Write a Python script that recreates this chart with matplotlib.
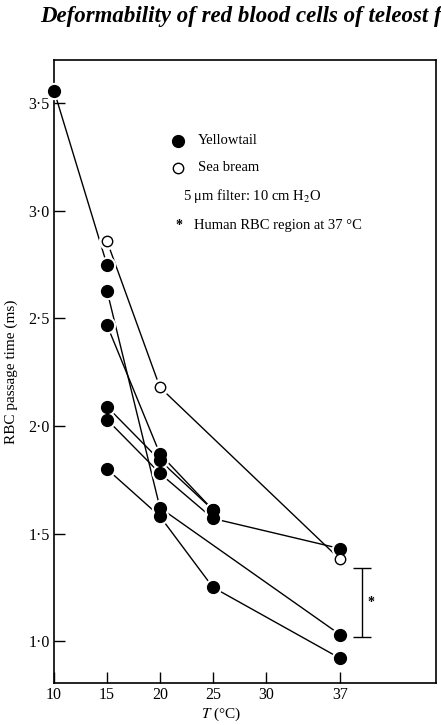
import numpy as np
import matplotlib
matplotlib.use("Agg")
import matplotlib.pyplot as plt

# temperatures (deg C) and RBC passage time (ms) per fish
yt_series = [
    ([10, 15], [3.56, 2.75]),
    ([15, 20, 37], [2.63, 1.62, 1.03]),
    ([15, 20, 25], [2.47, 1.87, 1.61]),
    ([15, 20, 25], [2.09, 1.84, 1.61]),
    ([15, 20, 25, 37], [2.03, 1.78, 1.57, 1.43]),
    ([15, 20, 25, 37], [1.80, 1.58, 1.25, 0.92]),
]
sb_temp = [15, 20, 37]
sb_time = [2.86, 2.18, 1.38]

# human RBC region at 37 C
human_x = 39.1
human_lo = 1.02
human_hi = 1.34

x_ticks = [10, 15, 20, 25, 30, 37]
y_ticks = [1.0, 1.5, 2.0, 2.5, 3.0, 3.5]
y_ticklabels = ['1·0', '1·5', '2·0', '2·5', '3·0', '3·5']

plt.rcParams['font.family'] = ['Liberation Serif', 'DejaVu Serif']
plt.rcParams['mathtext.fontset'] = 'stix'

fig = plt.figure(figsize=(4.41, 7.25), dpi=100)
ax = fig.add_axes([54 / 441, 1 - 683 / 725, 382 / 441, 623 / 725])

# lines
for xs, ys in yt_series:
    ax.plot(xs, ys, color='black', lw=1.0, zorder=2)
ax.plot(sb_temp, sb_time, color='black', lw=1.0, zorder=2)

# white halo so the lines stop short of the points
all_x = [x for xs, _ in yt_series for x in xs] + sb_temp
all_y = [y for _, ys in yt_series for y in ys] + sb_time
ax.plot(all_x, all_y, 'o', ls='none', ms=11.5, color='white', zorder=3, clip_on=False)

for xs, ys in yt_series:
    ax.plot(xs, ys, 'o', ls='none', ms=8.5, color='black', zorder=4, clip_on=False)
ax.plot(sb_temp, sb_time, 'o', ls='none', ms=7.5, mfc='white', mec='black',
        mew=1.0, zorder=4)

# human region bar
ax.errorbar([human_x], [(human_lo + human_hi) / 2],
            yerr=[[(human_hi - human_lo) / 2], [(human_hi - human_lo) / 2]],
            fmt='none', ecolor='black', elinewidth=1.0, capsize=6.5, capthick=1.0)
ax.text(human_x + 0.5, (human_lo + human_hi) / 2, '*', fontsize=10,
        fontweight='bold', va='center', ha='left')

ax.set_xlim(10, 46.06)
ax.set_ylim(0.805, 3.702)
ax.set_xticks(x_ticks)
ax.set_xticklabels([str(t) for t in x_ticks])
ax.set_yticks(y_ticks)
ax.set_yticklabels(y_ticklabels)
ax.tick_params(direction='in', length=8, width=1.0, labelsize=11.5, pad=3)
for s in ax.spines.values():
    s.set_linewidth(1.2)

ax.set_ylabel('RBC passage time (ms)', fontsize=11)
ax.yaxis.set_label_coords(-0.095, 0.5)
ax.set_xlabel('$T$ (°C)', fontsize=11)
ax.xaxis.set_label_coords((221 - 54) / 382, -0.036)

# legend drawn by hand
ax.plot([0.325], [0.870], 'o', ms=8.5, color='black', transform=ax.transAxes, clip_on=False)
ax.text(0.377, 0.870, 'Yellowtail', fontsize=10.5, va='center', transform=ax.transAxes)
ax.plot([0.325], [0.827], 'o', ms=7.5, mfc='white', mec='black', mew=1.0,
        transform=ax.transAxes, clip_on=False)
ax.text(0.377, 0.827, 'Sea bream', fontsize=10.5, va='center', transform=ax.transAxes)
ax.text(0.338, 0.782, '5 μm filter: 10 cm H$_2$O', fontsize=10.5, va='center',
        transform=ax.transAxes)
ax.text(0.318, 0.734, '*', fontsize=10, fontweight='bold', va='center',
        transform=ax.transAxes)
ax.text(0.366, 0.734, 'Human RBC region at 37 °C', fontsize=10.5, va='center',
        transform=ax.transAxes)

fig.text(40 / 441, 1 - 22 / 725, 'Deformability of red blood cells of teleost fish',
         fontsize=16.5, style='italic', fontweight='bold', va='baseline', ha='left')

fig.savefig('out.png', dpi=100)
